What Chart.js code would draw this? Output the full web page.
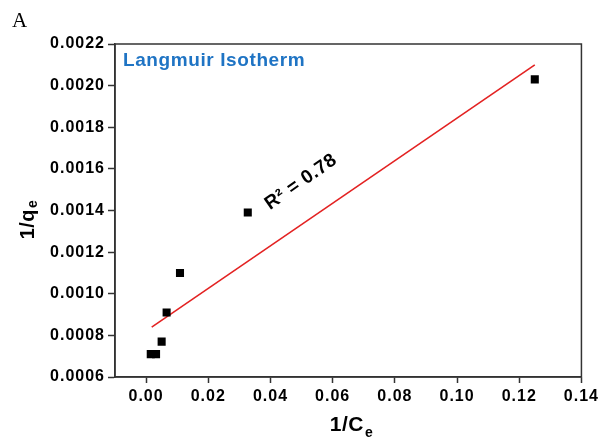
<!DOCTYPE html>
<html><head><meta charset="utf-8">
<script src="https://cdn.jsdelivr.net/npm/chart.js@4.4.1/dist/chart.umd.min.js"></script>
<style>html,body{margin:0;padding:0;background:#fff}#wrap{width:601px;height:446px;position:relative}</style>
</head><body><div id="wrap"><canvas id="c" width="601" height="446"></canvas></div>
<script>
const invCe = [0.0015, 0.0032, 0.0050, 0.0066, 0.0109, 0.0327, 0.1250];
const invQe = [0.00071, 0.00071, 0.00077, 0.00091, 0.00110, 0.00139, 0.00203];
const fitX = [0.0018, 0.1250];
const fitY = [0.00084, 0.00210];
const xTicks = [0, 0.02, 0.04, 0.06, 0.08, 0.10, 0.12, 0.14];
const yTicks = [0.0006, 0.0008, 0.0010, 0.0012, 0.0014, 0.0016, 0.0018, 0.0020, 0.0022];
const panelLabel = 'A';
const titleText = 'Langmuir Isotherm';
const r2Text = 'R² = 0.78';

const FONT = '"Liberation Sans", Arial, sans-serif';

const spacing = {
  id: 'spacing',
  beforeDraw(chart) { chart.ctx.letterSpacing = '1px'; }
};

const deco = {
  id: 'deco',
  afterDraw(chart) {
    const ctx = chart.ctx, a = chart.chartArea;
    ctx.save();
    ctx.letterSpacing = '0px';
    ctx.strokeStyle = '#333';
    ctx.lineWidth = 1.5;
    ctx.strokeRect(a.left, a.top, a.right - a.left, a.bottom - a.top);
    // panel letter
    ctx.fillStyle = '#000';
    ctx.font = '21px "Liberation Serif", "Times New Roman", serif';
    ctx.textBaseline = 'alphabetic';
    ctx.textAlign = 'left';
    ctx.fillText(panelLabel, 12, 27);
    // title inside plot
    ctx.fillStyle = '#1f74c4';
    ctx.letterSpacing = '0.6px';
    ctx.font = 'bold 19px ' + FONT;
    ctx.fillText(titleText, 123, 66);
    // R2 annotation
    ctx.save();
    ctx.translate(301, 182);
    ctx.rotate(-35 * Math.PI / 180);
    ctx.fillStyle = '#000';
    ctx.letterSpacing = '0.5px';
    ctx.font = 'bold 19px ' + FONT;
    ctx.textAlign = 'center';
    ctx.textBaseline = 'middle';
    ctx.fillText(r2Text, 0, 0);
    ctx.restore();
    // x-axis title 1/Ce
    ctx.fillStyle = '#000';
    ctx.letterSpacing = '0.5px';
    ctx.font = 'bold 21px ' + FONT;
    ctx.textAlign = 'left';
    ctx.textBaseline = 'alphabetic';
    let main = '1/C', w = ctx.measureText(main).width;
    ctx.font = 'bold 14px ' + FONT;
    let ws = ctx.measureText('e').width;
    let x0 = 351 - (w + ws) / 2;
    ctx.font = 'bold 21px ' + FONT;
    ctx.fillText(main, x0, 431);
    ctx.font = 'bold 14px ' + FONT;
    ctx.fillText('e', x0 + w + 1, 437);
    // y-axis title 1/qe
    ctx.save();
    ctx.translate(34, 220);
    ctx.rotate(-Math.PI / 2);
    ctx.font = 'bold 20px ' + FONT;
    main = '1/q'; w = ctx.measureText(main).width;
    ctx.font = 'bold 14px ' + FONT;
    ws = ctx.measureText('e').width;
    x0 = -(w + ws) / 2;
    ctx.font = 'bold 20px ' + FONT;
    ctx.fillText(main, x0, 0);
    ctx.font = 'bold 14px ' + FONT;
    ctx.fillText('e', x0 + w + 1, 3);
    ctx.restore();
    ctx.restore();
  }
};

new Chart(document.getElementById('c'), {
  type: 'scatter',
  data: {
    datasets: [
      {
        type: 'line',
        data: fitX.map((x, i) => ({x, y: fitY[i]})),
        borderColor: '#e32222',
        borderWidth: 1.6,
        pointRadius: 0,
        fill: false,
        order: 2
      },
      {
        data: invCe.map((x, i) => ({x, y: invQe[i]})),
        pointStyle: 'rect',
        pointRadius: 5.7,
        pointHoverRadius: 5.7,
        backgroundColor: '#000',
        borderColor: '#000',
        borderWidth: 0,
        order: 1
      }
    ]
  },
  options: {
    responsive: false,
    animation: false,
    devicePixelRatio: 1,
    layout: { padding: { left: 0, right: 19, top: 44, bottom: 0 } },
    plugins: { legend: { display: false }, tooltip: { enabled: false } },
    scales: {
      x: {
        type: 'linear',
        min: -0.01, max: 0.14,
        afterBuildTicks: s => { s.ticks = xTicks.map(v => ({value: v})); },
        afterFit: s => { s.height = 69; },
        grid: { display: true, drawOnChartArea: false, drawTicks: true, tickLength: 6, tickColor: '#333', tickWidth: 1.5 },
        border: { display: true, color: '#333', width: 1.5 },
        ticks: { color: '#000', font: { family: FONT, size: 16, weight: 'bold' }, padding: 4, maxRotation: 0,
          callback: v => v.toFixed(2) }
      },
      y: {
        type: 'linear',
        min: 0.0006, max: 0.0022,
        afterBuildTicks: s => { s.ticks = yTicks.map(v => ({value: v})); },
        afterFit: s => { s.width = 115; },
        grid: { display: true, drawOnChartArea: false, drawTicks: true, tickLength: 7, tickColor: '#333', tickWidth: 1.5 },
        border: { display: true, color: '#333', width: 1.5 },
        ticks: { color: '#000', font: { family: FONT, size: 16, weight: 'bold' }, padding: 3,
          callback: v => v.toFixed(4) }
      }
    }
  },
  plugins: [spacing, deco]
});
</script></body></html>
